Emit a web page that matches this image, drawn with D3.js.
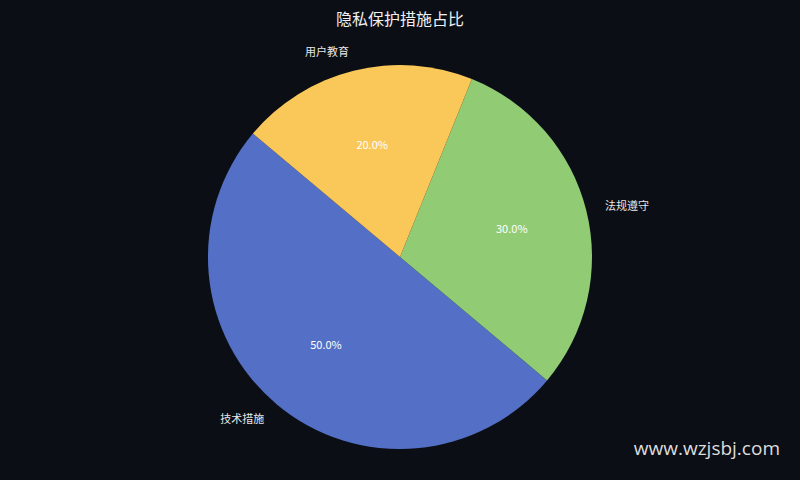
<!DOCTYPE html>
<html>
<head>
<meta charset="utf-8">
<script src="https://cdn.jsdelivr.net/npm/d3@7"></script>
<style>
  html, body { margin: 0; padding: 0; background: #0b0e14; }
  svg { display: block; }
</style>
</head>
<body>
<svg id="chart"></svg>
<script>
const CATEGORIES = ["技术措施", "法规遵守", "用户教育"];
const VALUES = [50, 30, 20];
const COLORS = ["#5470c6", "#91cc75", "#fac858"];

const W = 800, H = 480;
const CX = 400, CY = 257, R = 192;
const START_DEG = 140;   // counterclockwise start, matplotlib style

const svg = d3.select("#chart").attr("width", W).attr("height", H);
svg.append("rect").attr("width", W).attr("height", H).attr("fill", "#0b0e14");

const color = d3.scaleOrdinal().domain(CATEGORIES).range(COLORS);

// d3 angles run clockwise from 12 o'clock; map a ccw math angle to that
const toD3 = deg => (90 - deg) * Math.PI / 180;

const total = d3.sum(VALUES);
let acc = START_DEG;
const slices = CATEGORIES.map((c, i) => {
  const a0 = acc, a1 = acc + VALUES[i] / total * 360;
  acc = a1;
  return { name: c, value: VALUES[i], a0: a0, a1: a1, mid: (a0 + a1) / 2 };
});

const arc = d3.arc().innerRadius(0).outerRadius(R);
const g = svg.append("g").attr("transform", "translate(" + CX + "," + CY + ")");

g.selectAll("path").data(slices).join("path")
  .attr("d", d => arc({ startAngle: toD3(d.a1), endAngle: toD3(d.a0) }))
  .attr("fill", d => color(d.name));

const font = "'Noto Sans CJK SC', 'Noto Sans', sans-serif";

g.selectAll("text.lbl").data(slices).join("text")
  .attr("class", "lbl")
  .attr("x", d => 1.1 * R * Math.cos(d.mid * Math.PI / 180))
  .attr("y", d => -1.1 * R * Math.sin(d.mid * Math.PI / 180) - 1)
  .attr("text-anchor", d => Math.cos(d.mid * Math.PI / 180) >= 0 ? "start" : "end")
  .attr("dominant-baseline", "central")
  .attr("fill", "#e8e8e8")
  .style("font-family", font).style("font-size", "11px")
  .text(d => d.name);

g.selectAll("text.pct").data(slices).join("text")
  .attr("class", "pct")
  .attr("x", d => 0.6 * R * Math.cos(d.mid * Math.PI / 180))
  .attr("y", d => -0.6 * R * Math.sin(d.mid * Math.PI / 180) - 1)
  .attr("text-anchor", "middle")
  .attr("dominant-baseline", "central")
  .attr("fill", "#ffffff")
  .style("font-family", font).style("font-size", "11px")
  .text(d => (d.value / total * 100).toFixed(1) + "%");

svg.append("text")
  .attr("x", 400).attr("y", 18)
  .attr("text-anchor", "middle").attr("dominant-baseline", "central")
  .attr("fill", "#f0f0f0")
  .style("font-family", font).style("font-size", "16px")
  .text("隐私保护措施占比");

svg.append("text")
  .attr("x", 780).attr("y", 455)
  .attr("text-anchor", "end")
  .attr("fill", "#dddddd")
  .style("font-family", "'Open Sans', 'Noto Sans', sans-serif").style("font-size", "19px")
  .text("www.wzjsbj.com");
</script>
</body>
</html>
